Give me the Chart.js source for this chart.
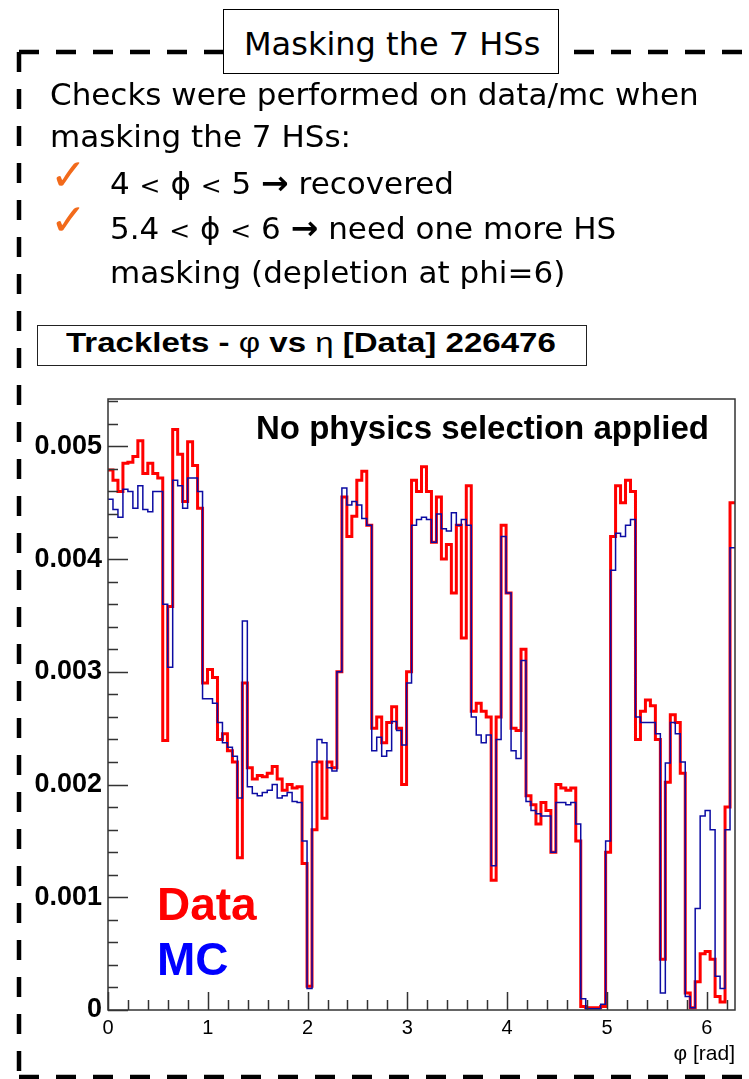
<!DOCTYPE html>
<html>
<head>
<meta charset="utf-8">
<script src="https://cdn.jsdelivr.net/npm/chart.js"></script>
<style>
  html, body { margin: 0; padding: 0; background: #fff; }
  #page { position: relative; width: 749px; height: 1079px; overflow: hidden; background: #fff; }
  #c { position: absolute; left: 0; top: 0; }
  .txt { position: absolute; font-family: "DejaVu Sans", sans-serif; font-size: 31px; line-height: 31px; color: #000; white-space: nowrap; }
  .chk { position: absolute; font-family: "DejaVu Sans", sans-serif; font-size: 44px; line-height: 44px; color: #f26a1b; }
  .arr { font-weight: bold; font-size: 33px; }
  .lt { font-size: 25px; }
  #slideTitle { position: absolute; left: 223px; top: 9px; width: 336px; height: 65px; box-sizing: border-box; border: 1.5px solid #000; background: #fff; }
  #slideTitle span { position: absolute; left: 20px; top: 18px; font-family: "DejaVu Sans", sans-serif; font-size: 32px; line-height: 32px; white-space: nowrap; }
  #histTitle { position: absolute; left: 37px; top: 325px; width: 550px; height: 41px; box-sizing: border-box; border: 1.5px solid #222; background: #fff; }
  #histTitle span { position: absolute; left: 28px; top: 3px; font-family: "Liberation Sans", Arial, sans-serif; font-weight: bold; font-size: 28px; line-height: 28px; white-space: nowrap; transform-origin: 0 0; transform: scaleX(1.18); }
  #histTitle i { font-style: normal; font-weight: normal; }
  .plotTxt { position: absolute; font-family: "Liberation Sans", Arial, sans-serif; font-weight: bold; white-space: nowrap; }
</style>
</head>
<body>
<div id="page">
  <canvas id="c" width="749" height="1079"></canvas>

  <div id="slideTitle"><span>Masking the 7 HSs</span></div>

  <div class="txt" style="left:50px; top:79px;">Checks were performed on data/mc when</div>
  <div class="txt" style="left:50px; top:121px;">masking the 7 HSs:</div>
  <div class="chk" style="left:50px; top:153px;">✓</div>
  <div class="txt" style="left:110px; top:167px;">4 <span class="lt">&lt;</span> ϕ <span class="lt">&lt;</span> 5 <span class="arr">→</span> recovered</div>
  <div class="chk" style="left:50px; top:198px;">✓</div>
  <div class="txt" style="left:110px; top:212px;">5.4 <span class="lt">&lt;</span> ϕ <span class="lt">&lt;</span> 6 <span class="arr">→</span> need one more HS</div>
  <div class="txt" style="left:110px; top:257px;">masking (depletion at phi=6)</div>

  <div id="histTitle"><span>Tracklets -  <i>φ</i> vs  <i>η</i> [Data] 226476</span></div>

  <div class="plotTxt" style="left:256px; top:411px; font-size:33px; line-height:33px;">No physics selection applied</div>
  <div class="plotTxt" style="left:157px; top:881px; font-size:46px; line-height:46px; color:#ff0000;">Data</div>
  <div class="plotTxt" style="left:157px; top:936px; font-size:46px; line-height:46px; color:#0000ff;">MC</div>
</div>

<script>
// histogram binning in phi
var nBins = 126;
var phiMin = 0;
var phiMax = 2 * Math.PI;

// tracklet fraction per phi bin, data
var dataVals = [
  0.00479, 0.00470, 0.00460, 0.00485, 0.00486, 0.00491, 0.00505, 0.00476, 0.00485, 0.00476,
  0.00472, 0.00239, 0.00358, 0.00515, 0.00493, 0.00451, 0.00504, 0.00483, 0.00445, 0.00290,
  0.00302, 0.00295, 0.00240, 0.00245, 0.00230, 0.00220, 0.00135, 0.00290, 0.00215, 0.00205,
  0.00208, 0.00207, 0.00210, 0.00216, 0.00205, 0.00195, 0.00200, 0.00197, 0.00198, 0.00130,
  0.00021, 0.00160, 0.00220, 0.00170, 0.00220, 0.00215, 0.00300, 0.00455, 0.00420, 0.00438,
  0.00470, 0.00478, 0.00430, 0.00250, 0.00260, 0.00237, 0.00255, 0.00269, 0.00250, 0.00200,
  0.00300, 0.00470, 0.00460, 0.00482, 0.00460, 0.00415, 0.00455, 0.00400, 0.00413, 0.00370,
  0.00430, 0.00330, 0.00465, 0.00265, 0.00272, 0.00265, 0.00260, 0.00115, 0.00260, 0.00430,
  0.00370, 0.00250, 0.00248, 0.00320, 0.00190, 0.00182, 0.00165, 0.00184, 0.00177, 0.00140,
  0.00200, 0.00197, 0.00195, 0.00197, 0.00150, 0.00003, 0.00002, 0.00002, 0.00002, 0.00003,
  0.00140, 0.00420, 0.00465, 0.00450, 0.00470, 0.00460, 0.00240, 0.00265, 0.00275, 0.00270,
  0.00240, 0.00045, 0.00202, 0.00262, 0.00255, 0.00210, 0.00015, 0.00002, 0.00025, 0.00050,
  0.00052, 0.00045, 0.00012, 0.00007, 0.00180, 0.00450
];

// same binning, monte carlo
var mcVals = [
  0.00453, 0.00444, 0.00437, 0.00462, 0.00460, 0.00445, 0.00465, 0.00444, 0.00442, 0.00460,
  0.00460, 0.00360, 0.00304, 0.00470, 0.00465, 0.00445, 0.00472, 0.00472, 0.00460, 0.00276,
  0.00276, 0.00272, 0.00255, 0.00237, 0.00233, 0.00225, 0.00188, 0.00345, 0.00198, 0.00192,
  0.00190, 0.00193, 0.00195, 0.00200, 0.00188, 0.00190, 0.00193, 0.00185, 0.00184, 0.00150,
  0.00019, 0.00220, 0.00240, 0.00237, 0.00215, 0.00212, 0.00300, 0.00463, 0.00448, 0.00451,
  0.00448, 0.00436, 0.00430, 0.00230, 0.00242, 0.00225, 0.00230, 0.00256, 0.00248, 0.00235,
  0.00290, 0.00430, 0.00435, 0.00437, 0.00435, 0.00415, 0.00440, 0.00427, 0.00425, 0.00441,
  0.00430, 0.00435, 0.00430, 0.00260, 0.00244, 0.00237, 0.00244, 0.00128, 0.00240, 0.00420,
  0.00370, 0.00230, 0.00223, 0.00310, 0.00185, 0.00177, 0.00174, 0.00172, 0.00172, 0.00140,
  0.00184, 0.00184, 0.00182, 0.00184, 0.00165, 0.00010, 0.00001, 0.00001, 0.00001, 0.00005,
  0.00150, 0.00390, 0.00423, 0.00420, 0.00430, 0.00435, 0.00260, 0.00255, 0.00255, 0.00255,
  0.00245, 0.00015, 0.00219, 0.00255, 0.00245, 0.00220, 0.00012, 0.00002, 0.00090, 0.00172,
  0.00177, 0.00160, 0.00030, 0.00019, 0.00160, 0.00410
];

// axis ranges and tick steps
var yMax = 0.00542;
var xMinorStep = 0.2;
var yMinorStep = 0.0002;
var yMajorStep = 0.001;

//bins -> step points (left edge of every bin + closing edge)
function histPoints(vals) {
  var w = (phiMax - phiMin) / nBins;
  var pts = vals.map(function (v, i) {
    return { x: phiMin + i * w, y: v };
  });
  pts.push({ x: phiMax, y: vals[vals.length - 1] });
  return pts;
}

function onStep(v, step) {
  var k = v / step;
  return Math.abs(k - Math.round(k)) < 1e-6;
}

//frame + root style ticks (inside the frame) -start
var rootFrame = {
  id: 'rootFrame',
  afterDatasetsDraw: function (chart) {
    var ctx = chart.ctx;
    var a = chart.chartArea;
    var xs = chart.scales.x;
    var ys = chart.scales.y;
    ctx.save();
    ctx.strokeStyle = '#333';
    ctx.lineWidth = 1.5;
    ctx.strokeRect(a.left, a.top, a.right - a.left, a.bottom - a.top);

    ctx.beginPath();
    xs.ticks.forEach(function (t) {
      if (!onStep(t.value, xMinorStep)) return;
      var px = Math.round(xs.getPixelForValue(t.value)) + 0.5;
      var len = onStep(t.value, 1) ? 18 : 10;
      ctx.moveTo(px, a.bottom);
      ctx.lineTo(px, a.bottom - len);
    });
    ys.ticks.forEach(function (t) {
      if (!onStep(t.value, yMinorStep)) return;
      var py = Math.round(ys.getPixelForValue(t.value)) + 0.5;
      var len = onStep(t.value, yMajorStep) ? 20 : 10;
      ctx.moveTo(a.left, py);
      ctx.lineTo(a.left + len, py);
    });
    ctx.stroke();
    ctx.restore();
  }
};
//frame + root style ticks -end

//dashed box around the slide block -start
var dashedBox = {
  id: 'dashedBox',
  afterDraw: function (chart) {
    var ctx = chart.ctx;
    ctx.save();
    ctx.strokeStyle = '#000';
    ctx.lineWidth = 4.5;
    ctx.setLineDash([20, 17]);
    ctx.beginPath();
    ctx.moveTo(19, 52);
    ctx.lineTo(760, 52);
    ctx.moveTo(19, 52);
    ctx.lineTo(19, 1077);
    ctx.moveTo(19, 1077);
    ctx.lineTo(760, 1077);
    ctx.stroke();
    ctx.restore();
  }
};
//dashed box -end

var canvas = document.getElementById('c');
var chart = new Chart(canvas.getContext('2d'), {
  type: 'line',
  data: {
    datasets: [
      {
        label: 'Data',
        data: histPoints(dataVals),
        borderColor: '#ff0000',
        borderWidth: 3,
        borderJoinStyle: 'miter',
        stepped: 'before',
        pointRadius: 0,
        fill: false,
        order: 2
      },
      {
        label: 'MC',
        data: histPoints(mcVals),
        borderColor: '#0c0ca3',
        borderWidth: 1.5,
        borderJoinStyle: 'miter',
        stepped: 'before',
        pointRadius: 0,
        fill: false,
        order: 1
      }
    ]
  },
  options: {
    responsive: false,
    animation: false,
    layout: { padding: { top: 399, right: 14, bottom: 0, left: 0 } },
    plugins: {
      legend: { display: false },
      tooltip: { enabled: false }
    },
    scales: {
      x: {
        type: 'linear',
        min: phiMin,
        max: phiMax,
        afterFit: function (s) { s.height = 69; },
        grid: { display: false, drawTicks: false },
        border: { display: false },
        ticks: {
          stepSize: xMinorStep,
          includeBounds: false,
          autoSkip: false,
          maxRotation: 0,
          padding: 6,
          color: '#000',
          font: { family: 'Liberation Sans, Arial, sans-serif', size: 20 },
          callback: function (v) { return onStep(v, 1) ? String(Math.round(v)) : ''; }
        },
        title: {
          display: true,
          text: 'φ [rad]',
          align: 'end',
          color: '#000',
          font: { family: 'Liberation Sans, Arial, sans-serif', size: 21 },
          padding: { top: 0, bottom: 12 }
        }
      },
      y: {
        min: 0,
        max: yMax,
        afterFit: function (s) { s.width = 108; },
        grid: { display: false, drawTicks: false },
        border: { display: false },
        ticks: {
          stepSize: yMinorStep,
          includeBounds: false,
          autoSkip: false,
          padding: 6,
          color: '#000',
          font: { family: 'Liberation Sans, Arial, sans-serif', size: 27, weight: 'bold' },
          callback: function (v) {
            if (!onStep(v, yMajorStep)) return '';
            return v < 1e-9 ? '0' : v.toFixed(3);
          }
        }
      }
    }
  },
  plugins: [rootFrame, dashedBox]
});
</script>
</body>
</html>
